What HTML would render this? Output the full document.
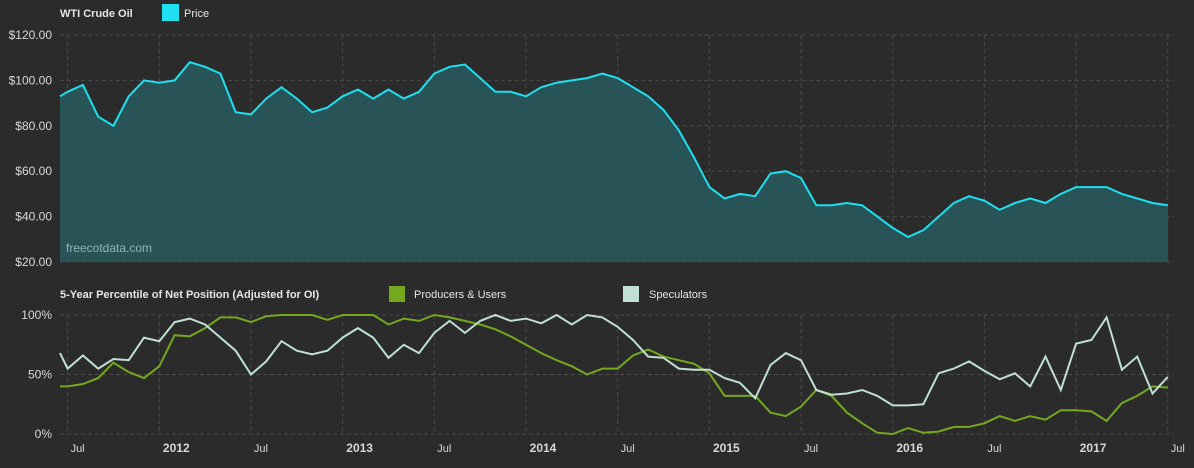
<!DOCTYPE html>
<html><head><meta charset="utf-8"><style>
body{margin:0;background:#2b2b2b;width:1194px;height:463px;overflow:hidden;font-family:"Liberation Sans",sans-serif}
svg text{font-family:"Liberation Sans",sans-serif}
</style></head><body>
<svg id="c" width="1194" height="463">
<rect width="1194" height="463" fill="#2b2b2b"/>
<text x="60" y="17" fill="#e6e6e6" font-size="11" font-weight="bold">WTI Crude Oil</text>
<rect x="162" y="4" width="17" height="17" fill="#1ee0f0"/>
<text x="184" y="17" fill="#e6e6e6" font-size="11">Price</text>
<text x="60" y="298" fill="#e6e6e6" font-size="11" font-weight="bold">5-Year Percentile of Net Position (Adjusted for OI)</text>
<rect x="389" y="286" width="16" height="16" fill="#74a81f"/>
<text x="414" y="298" fill="#e6e6e6" font-size="11">Producers &amp; Users</text>
<rect x="623" y="286" width="16" height="16" fill="#bfe0d2"/>
<text x="649" y="298" fill="#e6e6e6" font-size="11">Speculators</text>
<g id="g"></g>
</svg>
<script>
const priceTicks=[20,40,60,80,100,120];
const pctTicks=[0,50,100];
const xTickLabels=["Jul","2012","Jul","2013","Jul","2014","Jul","2015","Jul","2016","Jul","2017","Jul"];
const price=[93,95,98,84,80,93,100,99,100,108,106,103,86,85,92,97,92,86,88,93,96,92,96,92,95,103,106,107,101,95,95,93,97,99,100,101,103,101,97,93,87,78,66,53,48,50,49,59,60,57,45,45,46,45,40,35,31,34,40,46,49,47,43,46,48,46,50,53,53,53,50,48,46,45];
const producers=[40,40,42,47,60,52,47,57,83,82,89,98,98,94,99,100,100,100,96,100,100,100,92,97,95,100,98,95,92,88,82,75,68,62,57,50,55,55,66,71,65,62,59,51,32,32,32,18,15,23,37,32,18,9,1,0,5,1,2,6,6,9,15,11,15,12,20,20,19,11,26,32,40,39];
const speculators=[68,55,66,55,63,62,81,78,94,97,92,81,70,50,61,78,70,67,70,81,89,81,64,75,68,85,95,85,95,100,95,97,93,100,92,100,98,90,79,65,64,55,54,54,47,43,30,58,68,62,37,33,34,37,32,24,24,25,51,55,61,53,46,51,40,65,37,76,79,98,54,65,34,48];
const NS="http://www.w3.org/2000/svg";
const g=document.getElementById('g');
const X0=60,X1=1174,MW=15.28;
function xAt(k){return k===0?60:67.6+(k-1)*MW;}
function xMonth(m){return 67.6+m*MW;} // months since Jul 2011
function yP(v){return 262-(v-20)*(227/100);}
function yC(v){return 434-v*1.19;}
function mk(t,a){const e=document.createElementNS(NS,t);for(const k in a)e.setAttribute(k,a[k]);g.appendChild(e);return e;}
// grids
priceTicks.forEach(v=>{
 const l=mk('line',{x1:X0,x2:X1,y1:yP(v),y2:yP(v),stroke:'#4a4a4a','stroke-dasharray':'4,3'});
 
 
 const t=mk('text',{x:52,y:yP(v)+4,fill:'#d8d8d8','font-size':12,'text-anchor':'end'});
 t.textContent='$'+v.toFixed(2);
 
 
});
pctTicks.forEach(v=>{
 const l=mk('line',{x1:X0,x2:X1,y1:yC(v),y2:yC(v),stroke:'#4a4a4a','stroke-dasharray':'4,3'});
 
 
 const t=mk('text',{x:52,y:yC(v)+4,fill:'#d8d8d8','font-size':12,'text-anchor':'end'});
 t.textContent=v+'%';
 
 
});
xTickLabels.forEach((lab,i)=>{
 const x=xMonth(i*6);
 [[35,262],[315,434]].forEach(r=>{
  const l=mk('line',{x1:x,x2:x,y1:r[0],y2:r[1],stroke:'#4a4a4a','stroke-dasharray':'4,3'});
  
  
 });
 const t=mk('text',{x:x+(lab==='Jul'?10:17),y:452,fill:'#d8d8d8','font-size':lab==='Jul'?11:12,'font-weight':lab==='Jul'?'normal':'bold','text-anchor':'middle'});
 t.textContent=lab;
 
 
});
// price area
let pts=price.map((v,k)=>xAt(k).toFixed(1)+','+yP(v).toFixed(1));
const area=mk('polygon',{points:xAt(0)+','+yP(20)+' '+pts.join(' ')+' '+xAt(price.length-1)+','+yP(20),fill:'#285457'});


const wm=mk('text',{x:66,y:252,fill:'#8fb5b5','font-size':12});
wm.textContent='freecotdata.com';


const pl=mk('polyline',{points:pts.join(' '),fill:'none',stroke:'#1ee0f0','stroke-width':2});


const prl=mk('polyline',{points:producers.map((v,k)=>xAt(k).toFixed(1)+','+yC(v).toFixed(1)).join(' '),fill:'none',stroke:'#74a81f','stroke-width':2});


const spl=mk('polyline',{points:speculators.map((v,k)=>xAt(k).toFixed(1)+','+yC(v).toFixed(1)).join(' '),fill:'none',stroke:'#bfe0d2','stroke-width':2});


</script>
</body></html>
